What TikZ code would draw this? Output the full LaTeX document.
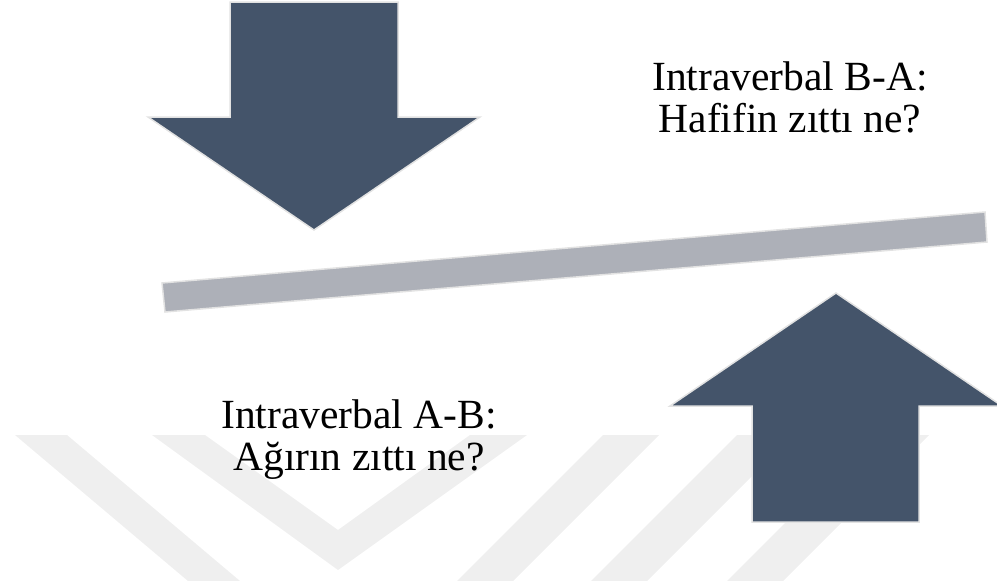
\documentclass[tikz,border=0pt]{standalone}
\usepackage{fontspec}
\setmainfont{Liberation Serif}
\usepackage{xcolor}
\definecolor{arrowblue}{RGB}{68,84,106}
\definecolor{bargray}{RGB}{173,176,184}
\definecolor{markgray}{RGB}{239,239,239}
\definecolor{rimgray}{RGB}{226,226,226}

\begin{document}
\begin{tikzpicture}[
            x = 1pt, y = -1pt,
            every node/.style = {align = center, inner sep = 0pt, font = \fontsize{41.5}{42}\selectfont},
            bigarrow/.style = {fill = arrowblue, draw = rimgray, line width = 1.5pt},
            seesaw/.style = {fill = bargray, draw = rimgray, line width = 1.5pt},
            watermark/.style = {fill = markgray, draw = none}
        ]
        \useasboundingbox (0,0) rectangle (997,581);
        % faint stripes at the bottom
        \fill[watermark] (15,435) -- (67,435) -- (240,581) -- (188,581) -- cycle;
        \fill[watermark] (152,435) -- (205,435) -- (338,530) -- (470,435) -- (527,435) -- (338,570) -- cycle;
        \foreach \sx in {603,737,873}
            \fill[watermark] (\sx,435) -- (\sx+56,435) -- (\sx-90,581) -- (\sx-146,581) -- cycle;
        \draw[seesaw] (162,283) -- (985,212) -- (987,242) -- (165,312) -- cycle;
        \draw[bigarrow] (230,2) -- (398,2) -- (398,117) -- (480,117) -- (314,230) -- (148,117) -- (230,117) -- cycle;
        \draw[bigarrow] (836,293) -- (1002,406) -- (919,406) -- (919,522) -- (752,522) -- (752,406) -- (670,406) -- cycle;
        \node (ba) at (790,97) {Intraverbal B-A:\\Hafifin zıttı ne?};
        \node (ab) at (359,440) {Intraverbal A-B:\\Ağırın zıttı ne?};
    \end{tikzpicture}
\end{document}
